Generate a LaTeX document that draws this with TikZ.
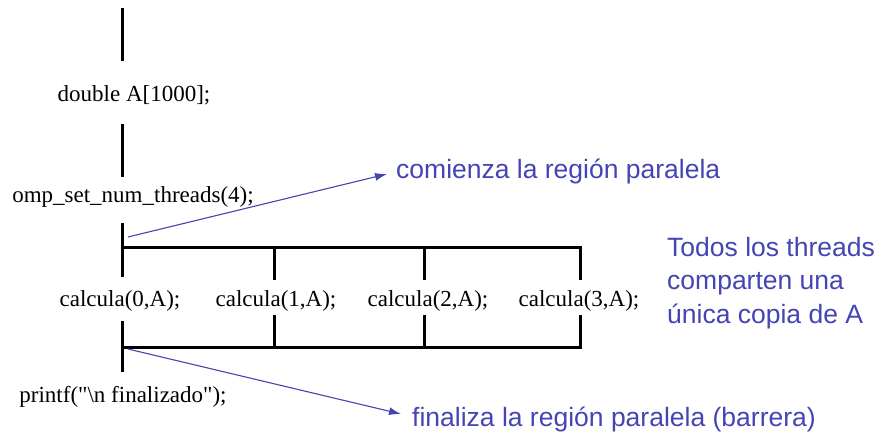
\documentclass[tikz,border=0pt]{standalone}
\usepackage{fontspec}
\setmainfont{Liberation Serif}
\newfontfamily\codefont{Liberation Serif}[Ligatures=TeXOff]
\newfontfamily\notefont{Liberation Sans}
\usetikzlibrary{arrows.meta}
\definecolor{noteblue}{RGB}{68,68,180}
\begin{document}
\begin{tikzpicture}[x=1pt,y=-1pt,
  code/.style={font=\codefont\fontsize{23}{27}\selectfont, inner sep=0pt, anchor=base},
  note/.style={font=\notefont\fontsize{26.5}{33.5}\selectfont, text=noteblue, inner sep=0pt},
  bar/.style={line width=3pt},
  pointer/.style={draw=noteblue, line width=1.1pt, -{Latex[length=12pt,width=8pt]}}]
\useasboundingbox (0,0) rectangle (883,434);

% code texts
\node[code] (dbl) at (134,101) {double A[1000];};
\node[code] (omp) at (133,202) {omp\_set\_num\_threads(4);};
\node[code] (c0) at (120,306) {calcula(0,A);};
\node[code] (c1) at (276,306) {calcula(1,A);};
\node[code] (c2) at (428,306) {calcula(2,A);};
\node[code] (c3) at (579,306) {calcula(3,A);};
\node[code] (pf) at (123,402) {printf("\textbackslash n finalizado");};

% notes
\node[note, anchor=base west] (nstart) at (396,178) {comienza la región paralela};
\node[note, anchor=base west] (nend) at (412,426) {finaliza la región paralela (barrera)};
\node[note, anchor=north west, align=left] (nshare) at (667,237) {Todos los threads\\comparten una\\única copia de A};

% coordinates of the flow
\coordinate (a1) at (122,8);   \coordinate (a2) at (122,61);
\coordinate (b1) at (122,124); \coordinate (b2) at (122,177);
\coordinate (f0) at (122,223); \coordinate (f1) at (122,277);
\coordinate (fork) at (122,247);
\coordinate (t1) at (274,280); \coordinate (t2) at (424,280); \coordinate (t3) at (580,280);
\coordinate (u0) at (122,321); \coordinate (u1) at (274,315); \coordinate (u2) at (424,315); \coordinate (u3) at (580,315);
\coordinate (join) at (122,347);
\coordinate (j2) at (122,372);

\draw[bar] (a1) -- (a2);
\draw[bar] (b1) -- (b2);
\draw[bar] (f0) -- (f1);
\draw[bar] (fork) -| (t3);
\draw[bar] (t1 |- fork) -- (t1);
\draw[bar] (t2 |- fork) -- (t2);
\draw[bar] (u3) |- (join);
\draw[bar] (u1) -- (u1 |- join);
\draw[bar] (u2) -- (u2 |- join);
\draw[bar] (u0) -- (j2);

% pointers
\coordinate (p1s) at (128,237); \coordinate (p1e) at (387,174);
\coordinate (p2s) at (128,349); \coordinate (p2e) at (401,414);
\draw[pointer] (p1s) -- (p1e);
\draw[pointer] (p2s) -- (p2e);
\end{tikzpicture}
\end{document}
